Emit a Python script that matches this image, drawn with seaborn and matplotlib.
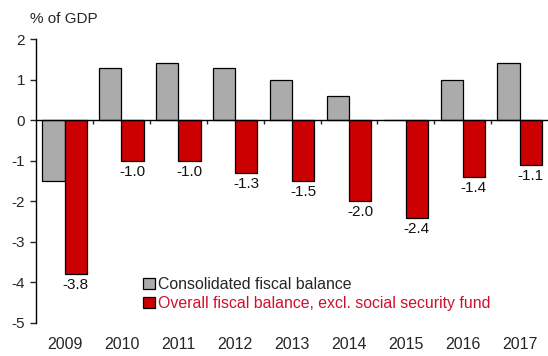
import matplotlib
matplotlib.use("Agg")
import matplotlib.pyplot as plt
import seaborn as sns
import pandas as pd

years = ["2009", "2010", "2011", "2012", "2013", "2014", "2015", "2016", "2017"]
consolidated = [-1.5, 1.3, 1.4, 1.3, 1.0, 0.6, 0.0, 1.0, 1.4]
overall_excl_ssf = [-3.8, -1.0, -1.0, -1.3, -1.5, -2.0, -2.4, -1.4, -1.1]
series_names = ["Consolidated fiscal balance",
                "Overall fiscal balance, excl. social security fund"]
y_ticks = [2, 1, 0, -1, -2, -3, -4, -5]

GRAY = "#ABABAB"
RED = "#CC0000"
RED_TEXT = "#D0102E"

df = pd.DataFrame({
    "year": years * 2,
    "value": consolidated + overall_excl_ssf,
    "series": [series_names[0]] * len(years) + [series_names[1]] * len(years),
})

sns.set_style("white")
plt.rcParams["font.family"] = ["Liberation Sans", "DejaVu Sans"]

fig = plt.figure(figsize=(5.48, 3.56), dpi=100)
ax = fig.add_axes([0.066, 0.093, 0.934, 0.797])

sns.barplot(data=df, x="year", y="value", hue="series", order=years,
            hue_order=series_names, palette=[GRAY, RED], saturation=1,
            width=0.78, edgecolor="black", linewidth=0.9, errorbar=None, ax=ax)

# value labels under the red bars
ax.bar_label(ax.containers[1], labels=[f"{v:.1f}" for v in overall_excl_ssf],
             padding=3, fontsize=11, color="#111111")

ax.set_xlim(-0.5, 8.5)
ax.set_ylim(-5, 2)
ax.set_yticks(y_ticks)
ax.set_yticklabels([str(t) for t in y_ticks], fontsize=11)
ax.set_xlabel("")
ax.set_ylabel("")

# axis line at zero with ticks on group boundaries
for s in ["top", "right"]:
    ax.spines[s].set_visible(False)
ax.spines["bottom"].set_position(("data", 0))
ax.spines["bottom"].set_linewidth(1.0)
ax.spines["left"].set_linewidth(1.0)
ax.spines["bottom"].set_color("black")
ax.spines["left"].set_color("black")
ax.set_xticks([i + 0.5 for i in range(len(years) - 1)])
ax.set_xticklabels([])
ax.tick_params(axis="x", direction="out", length=3, width=1, bottom=True)
ax.tick_params(axis="y", direction="out", length=4, width=1, left=True, pad=4)

for i, yr in enumerate(years):
    ax.text(i, -0.075, yr, transform=ax.get_xaxis_transform(),
            ha="center", va="center", fontsize=11.5)

fig.text(0.055, 0.948, "% of GDP", fontsize=11, ha="left", va="center")

leg = ax.legend(loc="lower left", bbox_to_anchor=(0.196, 0.02), frameon=False,
                fontsize=11.4, handlelength=0.75, handleheight=0.75,
                handletextpad=0.2, labelspacing=0.25, borderaxespad=0)
leg.get_texts()[1].set_color(RED_TEXT)

fig.savefig("out.png", dpi=100)
